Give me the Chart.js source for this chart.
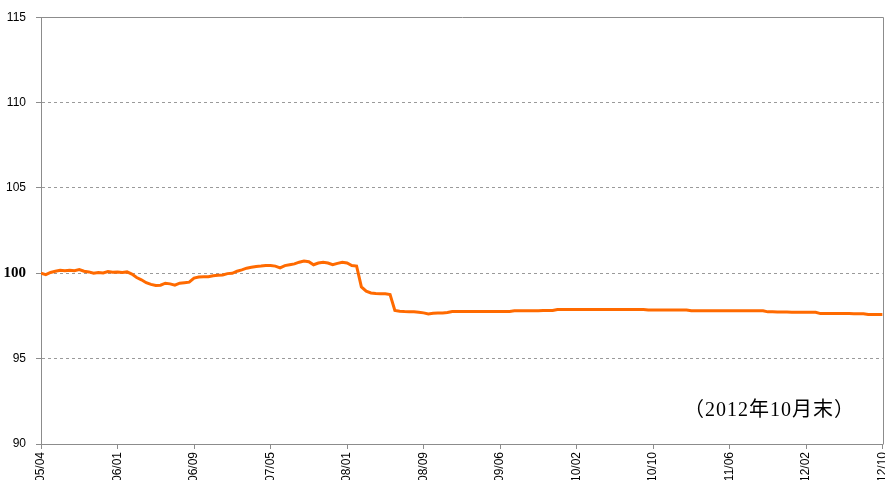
<!DOCTYPE html>
<html>
<head>
<meta charset="utf-8">
<script src="https://cdn.jsdelivr.net/npm/chart.js@4/dist/chart.umd.min.js"></script>
<style>
  html, body { margin: 0; padding: 0; background: #fff; overflow: hidden; }
  #wrap { position: relative; width: 885px; height: 480px; overflow: hidden; }
  #c { position: absolute; left: 0; top: 0; }
  #note { position: absolute; left: 684px; top: 397px; font-family: "Liberation Serif", "Noto Sans CJK JP", serif; font-size: 20px; letter-spacing: 1px; line-height: 24px; color: #000; white-space: nowrap; }
</style>
</head>
<body>
<div id="wrap">
  <canvas id="c" width="900" height="490"></canvas>
  <div id="note">（2012年10月末）</div>
</div>
<script>
const tickLabels = ["05/04","06/01","06/09","07/05","08/01","08/09","09/06","10/02","10/10","11/06","12/02","12/10"];
const yTicks = [90, 95, 100, 105, 110, 115];
const values = [
  100.00, 99.92, 100.05, 100.12, 100.18, 100.15, 100.18, 100.15, 100.22, 100.12,
  100.08, 100.00, 100.05, 100.02, 100.10, 100.06, 100.08, 100.04, 100.08, 99.95,
  99.75, 99.62, 99.45, 99.35, 99.28, 99.30, 99.42, 99.38, 99.30, 99.42,
  99.45, 99.48, 99.72, 99.78, 99.80, 99.80, 99.85, 99.88, 99.90, 99.98,
  100.00, 100.12, 100.20, 100.30, 100.35, 100.40, 100.42, 100.45, 100.46, 100.42,
  100.32, 100.45, 100.50, 100.55, 100.65, 100.72, 100.68, 100.50, 100.60, 100.65,
  100.60, 100.50, 100.58, 100.65, 100.60, 100.45, 100.42, 99.20, 98.95, 98.85,
  98.82, 98.80, 98.80, 98.75, 97.82, 97.78, 97.76, 97.75, 97.74, 97.72,
  97.68, 97.62, 97.66, 97.68, 97.68, 97.70, 97.76, 97.76, 97.76, 97.76,
  97.76, 97.76, 97.76, 97.76, 97.76, 97.76, 97.76, 97.76, 97.76, 97.80,
  97.80, 97.80, 97.80, 97.80, 97.80, 97.82, 97.82, 97.82, 97.88, 97.88,
  97.88, 97.88, 97.88, 97.88, 97.88, 97.88, 97.88, 97.88, 97.88, 97.88,
  97.88, 97.88, 97.88, 97.88, 97.88, 97.88, 97.88, 97.85, 97.85, 97.85,
  97.85, 97.85, 97.85, 97.85, 97.85, 97.85, 97.80, 97.80, 97.80, 97.80,
  97.80, 97.80, 97.80, 97.80, 97.80, 97.80, 97.80, 97.80, 97.80, 97.80,
  97.80, 97.80, 97.74, 97.74, 97.73, 97.73, 97.73, 97.72, 97.72, 97.72,
  97.72, 97.72, 97.72, 97.64, 97.64, 97.64, 97.64, 97.64, 97.64, 97.64,
  97.63, 97.63, 97.63, 97.58, 97.58, 97.58, 97.58
];

const step = (values.length - 1) / (tickLabels.length - 1);
const points = values.map((v, i) => ({ x: i, y: v }));

const framePlugin = {
  id: 'frame',
  afterDraw(chart) {
    const { ctx, chartArea: a } = chart;
    ctx.save();
    ctx.strokeStyle = '#8c8c8c';
    ctx.lineWidth = 1;
    ctx.beginPath();
    ctx.moveTo(Math.round(a.left) + 0.5, Math.round(a.top) + 0.5);
    ctx.lineTo(Math.round(a.right) + 0.5, Math.round(a.top) + 0.5);
    ctx.lineTo(Math.round(a.right) + 0.5, Math.round(a.bottom) + 0.5);
    ctx.stroke();
    ctx.restore();
  }
};

new Chart(document.getElementById('c'), {
  type: 'line',
  data: {
    datasets: [{
      data: points,
      borderColor: '#ff6a00',
      borderWidth: 3,
      pointRadius: 0,
      tension: 0,
      fill: false
    }]
  },
  options: {
    responsive: false,
    animation: false,
    devicePixelRatio: 1,
    layout: { padding: { top: 16, right: 12, left: 0, bottom: 0 } },
    plugins: { legend: { display: false }, tooltip: { enabled: false } },
    scales: {
      x: {
        type: 'linear',
        min: 0,
        max: values.length - 1,
        afterFit(scale) { scale.height = 46; },
        ticks: {
          stepSize: step,
          autoSkip: false,
          maxRotation: 90,
          minRotation: 90,
          padding: 3,
          color: '#000',
          font: { family: '"Liberation Sans Narrow", "Liberation Sans", Arial, sans-serif', size: 12 },
          callback: (v) => {
            const k = Math.round(v / step);
            return Math.abs(v - k * step) < 1e-6 ? tickLabels[k] : '';
          }
        },
        grid: { display: true, drawOnChartArea: false, drawTicks: true, tickLength: 5, tickColor: '#8c8c8c', color: '#8c8c8c' },
        border: { display: true, color: '#8c8c8c', width: 1 }
      },
      y: {
        min: yTicks[0],
        max: yTicks[yTicks.length - 1],
        afterFit(scale) { scale.width = 41; },
        afterBuildTicks(scale) { scale.ticks = yTicks.map(v => ({ value: v })); },
        ticks: {
          padding: 10,
          color: '#000',
          font: (ctx) => (ctx.tick && ctx.tick.value === 100)
            ? { family: '"Liberation Serif", serif', size: 15, weight: 'bold' }
            : { family: '"Liberation Sans", Arial, sans-serif', size: 12 }
        },
        grid: {
          drawOnChartArea: true,
          drawTicks: true,
          tickLength: 5,
          tickColor: '#8c8c8c',
          tickBorderDash: [],
          color: (ctx) => (ctx.tick && (ctx.tick.value === 90 || ctx.tick.value === 115)) ? 'rgba(0,0,0,0)' : '#9a9a9a'
        },
        border: { display: true, color: '#8c8c8c', width: 1, dash: [3, 3] }
      }
    }
  },
  plugins: [framePlugin]
});
</script>
</body>
</html>
